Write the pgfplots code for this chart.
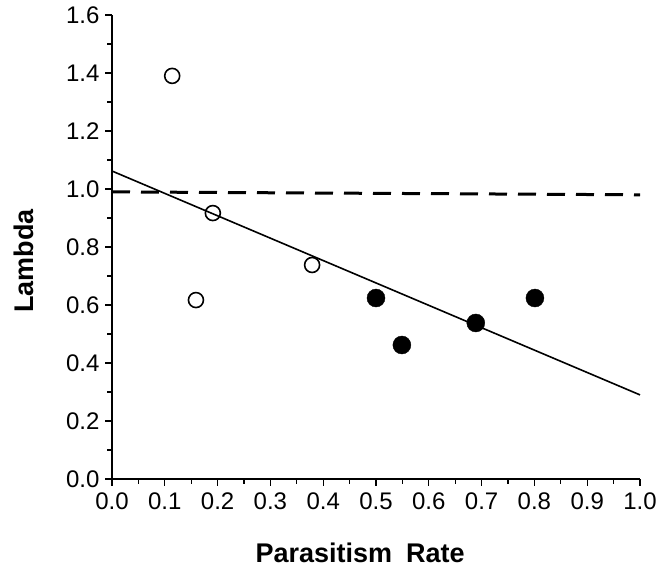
\documentclass[border=0pt]{standalone}
\usepackage{fontspec}
\setmainfont{Liberation Sans}
\usepackage{pgfplots}
\pgfplotsset{compat=1.18}

\begin{document}
\begin{tikzpicture}
% fixed page frame: 658 x 569, axis box placed as in the reference
\path[use as bounding box] (-112pt,-90pt) rectangle (546pt,479pt);
\begin{axis}[
    at={(0,0)}, anchor=south west,
    scale only axis,
    width=528pt, height=464pt,
    xmin=0, xmax=1.0, ymin=0, ymax=1.6,
    axis lines*=left,
    axis line style={line width=1.6pt},
    xtick={0,0.1,...,1.0},
    ytick={0,0.2,...,1.6},
    minor x tick num=1,
    minor y tick num=1,
    tick align=outside,
    major tick length=7pt,
    minor tick length=5pt,
    every tick/.style={black, line width=1.3pt},
    tick label style={font=\fontsize{24}{28}\selectfont},
    /pgf/number format/assume math mode=true,
    /pgf/number format/fixed,
    /pgf/number format/fixed zerofill,
    /pgf/number format/precision=1,
    yticklabel style={xshift=-2pt},
    xticklabel style={yshift=-3pt},
    xlabel={Parasitism\hspace{14pt}Rate},
    ylabel={Lambda},
    every axis x label/.style={at={(axis description cs:0.47,0)}, yshift=-74pt, anchor=center,
        font=\fontsize{27}{30}\selectfont\bfseries},
    every axis y label/.style={at={(axis description cs:0,0.47)}, xshift=-88pt, rotate=90, anchor=center,
        font=\fontsize{27}{30}\selectfont\bfseries},
    clip=false,
]
% dashed reference line
\addplot[black, line width=3pt, dash pattern=on 18pt off 11pt] coordinates {(0,0.99) (1.0,0.98)};
% regression line
\addplot[black, line width=1.6pt] coordinates {(0,1.062) (1.0,0.29)};
% open circles
\addplot[only marks, mark=o, mark size=7.5pt, mark options={line width=1.6pt, fill=white, draw=black}] coordinates {
    (0.114,1.39) (0.159,0.617) (0.191,0.917) (0.379,0.738)
};
% filled circles
\addplot[only marks, mark=*, mark size=9pt, mark options={fill=black, draw=black}] coordinates {
    (0.500,0.624) (0.549,0.462) (0.689,0.538) (0.801,0.624)
};
\end{axis}
\end{tikzpicture}
\end{document}
